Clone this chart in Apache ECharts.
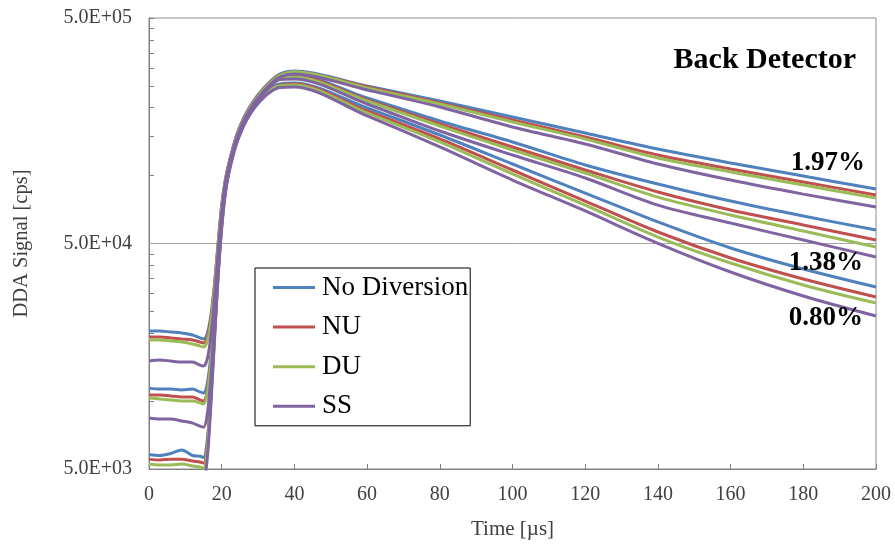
<!DOCTYPE html>
<html><head><meta charset="utf-8">
<script src="https://cdn.jsdelivr.net/npm/echarts@6/dist/echarts.min.js"></script>
<style>html,body{margin:0;padding:0;background:#fff}#c{width:895px;height:556px}</style>
</head><body><div id="c"></div>
<script>
// ---- data ----
const times = [0,3,6,9,12,14,15,16,17,18,19,20,21,22,24,26,28,30,33,36,40,60,80,100,120,140,160,180,200];
const seriesNames = ['No Diversion','NU','DU','SS'];
const seriesColors = ['#4F81BD','#C0504D','#9BBB59','#8064A2'];
const groupLabels = ['1.97%','1.38%','0.80%'];

const noDiv197 = [20460,20460,20250,20050,19650,19060,18860,19860,23860,32860,49860,74000,96000,114000,149500,180000,205000,228500,258500,282000,291000,249800,214300,182000,154500,131200,113800,99600,87200];
const nu197    = [19250,19250,19060,18860,18670,18300,18120,19120,23120,32120,49120,73000,95000,113000,148000,178000,203000,226000,256000,279000,288100,247300,210000,176500,148400,123400,107000,93700,82000];
const du197    = [18670,18670,18480,18300,17930,17570,17390,18390,22390,31390,48390,72000,94500,112500,147000,177000,202000,225000,255000,278000,289000,244700,207800,172900,145400,119700,103800,90800,79500];
const ss197    = [15060,15220,15060,14900,14900,14450,14310,15310,19310,28310,45310,69000,93000,111000,145000,174500,199000,221500,251000,273500,282200,239800,201600,164300,138100,112600,95600,82800,72600];

const noDiv138 = [11420,11310,11310,11200,11310,10980,10870,11870,15870,24870,41870,67000,91000,110000,145500,176000,201000,223000,252500,275000,279400,221000,174700,141000,111500,91800,77100,66200,57400];
const nu138    = [10650,10650,10540,10440,10440,10120,10020,11020,15020,24020,41020,66000,90000,109000,144000,174000,199000,221000,250000,272000,276500,216500,169400,134000,105900,84600,70400,60400,51800];
const du138    = [10330,10220,10120,10020,10020,9820,9720,10720,14720,23720,40720,65500,89500,108500,143500,173000,198000,220000,248500,270500,273700,214300,165900,129900,102700,80300,66900,56800,48250];
const ss138    = [8420,8330,8330,8160,7990,7740,7660,8660,12660,21660,38660,64000,88000,107000,141000,170500,195000,216500,245000,266500,268200,207800,157700,123400,97600,74000,61600,51800,43560];

const noDiv080 = [5800,5740,5860,6070,5740,5690,5630,6630,10630,19630,36630,61000,86000,106000,141500,171000,195000,216500,241000,255000,257500,199500,151400,112600,83700,62300,47750,38540,32070];
const nu080    = [5530,5480,5530,5530,5420,5370,5310,6310,10310,19310,36310,60000,85000,105000,140000,169000,193000,214000,238000,252000,254900,193500,145400,105900,77100,56240,43120,34800,28960];
const du080    = [5260,5210,5210,5260,5160,5100,5050,6050,10050,19050,36050,59500,84500,104500,139000,168000,192000,213000,237000,250500,252300,189600,141000,101700,74000,53410,40980,32740,27240];
const ss080    = [4700,4650,4680,4650,4600,4550,4500,5500,9500,18500,35500,58500,83000,103000,137000,165500,189000,209000,232500,246000,247300,183900,134000,95600,69700,50100,37380,29260,23850];

const yLabelValues = [5000, 50000, 500000];
const yTickValues = [5000,10000,15000,20000,25000,30000,35000,40000,45000,50000,100000,150000,200000,250000,300000,350000,400000,450000,500000];
const gridLineValue = 50000;

// ---- chart ----
const byColor = [
  [noDiv197, noDiv138, noDiv080],
  [nu197, nu138, nu080],
  [du197, du138, du080],
  [ss197, ss138, ss080]
];
const serif = '"Liberation Serif", "Times New Roman", serif';
function sci(v){
  const e = Math.floor(Math.log10(v) + 1e-9);
  const m = v / Math.pow(10, e);
  return m.toFixed(1) + 'E+' + (e < 10 ? '0' : '') + e;
}
const series = [];
byColor.forEach((groups, ci) => {
  groups.forEach((arr, gi) => {
    const s = {
      name: seriesNames[ci], type: 'line', symbol: 'none', smooth: 0.3,
      data: times.map((t, i) => [t, arr[i]]),
      lineStyle: {width: 3, color: seriesColors[ci]},
      itemStyle: {color: seriesColors[ci]},
      z: 3 + ci
    };
    if (ci === 0 && gi === 0) {
      s.markLine = {silent: true, symbol: ['none','none'], z: 1,
        data: [{yAxis: gridLineValue}], label: {show: false},
        lineStyle: {color: '#a6a6a6', width: 1, type: 'solid'}};
    }
    series.push(s);
  });
});

const chart = echarts.init(document.getElementById('c'), null, {renderer: 'canvas'});
chart.setOption({
  animation: false,
  backgroundColor: '#fff',
  grid: {left: 149, right: 19, top: 18, bottom: 87, show: true, borderColor: '#8c8c8c', borderWidth: 1},
  xAxis: {
    type: 'value', min: 0, max: 200, interval: 20,
    axisLine: {onZero: false, lineStyle: {color: '#7f7f7f', width: 1}},
    axisTick: {inside: true, length: 5, lineStyle: {color: '#7f7f7f'}},
    axisLabel: {fontFamily: serif, fontSize: 20, color: '#404040', margin: 16},
    splitLine: {show: false},
    name: 'Time [µs]', nameLocation: 'middle', nameGap: 50,
    nameTextStyle: {fontFamily: serif, fontSize: 21, color: '#404040'}
  },
  yAxis: {
    type: 'log', logBase: 10, min: 5000, max: 500000,
    axisLine: {show: true, lineStyle: {color: '#7f7f7f', width: 1}},
    axisTick: {show: true, inside: true, length: 5, customValues: yTickValues, lineStyle: {color: '#7f7f7f'}},
    axisLabel: {customValues: yLabelValues, formatter: sci, fontFamily: serif, fontSize: 20, color: '#404040', margin: 17},
    splitLine: {show: false},
    name: 'DDA Signal [cps]', nameLocation: 'middle', nameGap: 117,
    nameTextStyle: {fontFamily: serif, fontSize: 20.5, color: '#404040'}
  },
  legend: {
    data: seriesNames, orient: 'vertical', left: 255, top: 268,
    icon: 'rect', itemWidth: 42, itemHeight: 3, itemGap: 12.6,
    padding: [6, 2, 6, 18], borderColor: '#000', borderWidth: 1,
    textStyle: {fontFamily: serif, fontSize: 27, color: '#000', lineHeight: 26, padding: [0,0,0,2]},
    selectedMode: false
  },
  graphic: [
    {type: 'text', x: 856, y: 60, z: 100, style: {text: 'Back Detector', font: 'bold 30px ' + serif, fill: '#000', textAlign: 'right', textVerticalAlign: 'middle'}},
    {type: 'text', x: 865, y: 163, z: 100, style: {text: groupLabels[0], font: 'bold 27px ' + serif, fill: '#000', textAlign: 'right', textVerticalAlign: 'middle'}},
    {type: 'text', x: 863, y: 263, z: 100, style: {text: groupLabels[1], font: 'bold 27px ' + serif, fill: '#000', textAlign: 'right', textVerticalAlign: 'middle'}},
    {type: 'text', x: 863, y: 318, z: 100, style: {text: groupLabels[2], font: 'bold 27px ' + serif, fill: '#000', textAlign: 'right', textVerticalAlign: 'middle'}}
  ],
  series: series
});
</script></body></html>
